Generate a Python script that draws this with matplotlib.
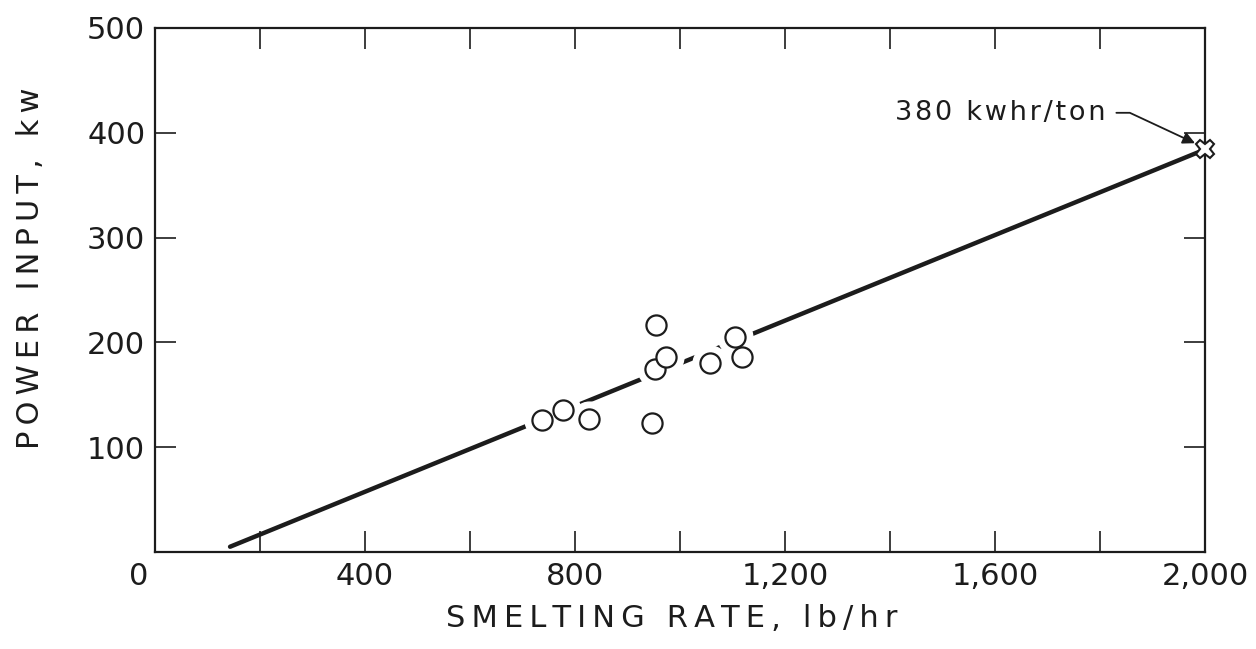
import matplotlib
matplotlib.use("Agg")
import matplotlib.pyplot as plt
import matplotlib.transforms as mtransforms

# measured points (smelting rate lb/hr, power input kw)
rate = [737, 777, 827, 947, 952, 954, 973, 1057, 1105, 1118]
power = [126, 135, 127, 123, 175, 217, 186, 180, 205, 186]

# fitted line and the 380 kwhr/ton end point
line_x = [143, 2000]
line_y = [5, 384]
end_x, end_y = 2000, 384

x_ticks = [0, 400, 800, 1200, 1600, 2000]
x_labels = ["0", "400", "800", "1,200", "1,600", "2,000"]
x_minor = [200, 600, 1000, 1400, 1800]
y_ticks = [100, 200, 300, 400, 500]

x_title = "SMELTING RATE, lb/hr"
y_title = "POWER INPUT, kw"
note = "380 kwhr/ton"


def spaced(s, gap="\u2009"):
    # old lettering-guide text is wide; pad the letters a bit
    return gap.join(s)


plt.rcParams['font.family'] = ['DejaVu Sans']
ink = "#1c1c1c"

fig = plt.figure(figsize=(12.56, 6.49), dpi=100)
ax = fig.add_axes([0.1234, 0.1495, 0.836, 0.8075])

ax.plot(line_x, line_y, color=ink, lw=3.2, solid_capstyle="round", zorder=1)
# white halo to break the line around each point
ax.plot(rate, power, "o", ms=25, mfc="white", mec="white", zorder=2)
ax.plot(rate, power, "o", ms=14.5, mfc="white", mec=ink, mew=1.6, zorder=3)
ax.plot([end_x], [end_y], "X", ms=13, mfc="white", mec=ink, mew=1.5,
        zorder=4, clip_on=False)

ax.annotate(spaced(note, "\u200a"), xy=(1981, 390), xytext=(1810, 419),
            ha="right", va="center", fontsize=19.5, color=ink,
            arrowprops=dict(arrowstyle="-|>", color=ink, lw=1.3,
                            connectionstyle="angle,angleA=0,angleB=-25,rad=0",
                            shrinkA=6, shrinkB=0, mutation_scale=18))

ax.set_xlim(0, 2000)
ax.set_ylim(0, 500)
ax.set_xticks(x_ticks)
ax.set_xticklabels(x_labels)
ax.set_xticks(x_minor, minor=True)
ax.set_yticks(y_ticks)

ax.tick_params(axis="both", which="both", direction="in", length=15, width=1.2,
               top=True, right=True, labelsize=22, colors=ink, pad=7)
for sp in ax.spines.values():
    sp.set_linewidth(1.6)
    sp.set_color(ink)

# the zero sits a little left of the corner
zero = ax.get_xticklabels()[0]
zero.set_transform(zero.get_transform() +
                   mtransforms.ScaledTranslation(-0.16, 0, fig.dpi_scale_trans))

ax.set_xlabel(spaced(x_title), fontsize=22, color=ink)
ax.set_ylabel(spaced(y_title), fontsize=22, color=ink)
ax.xaxis.set_label_coords(0.492, -0.10)
ax.yaxis.set_label_coords(-0.105, 0.542)

fig.savefig("out.png", dpi=100)
